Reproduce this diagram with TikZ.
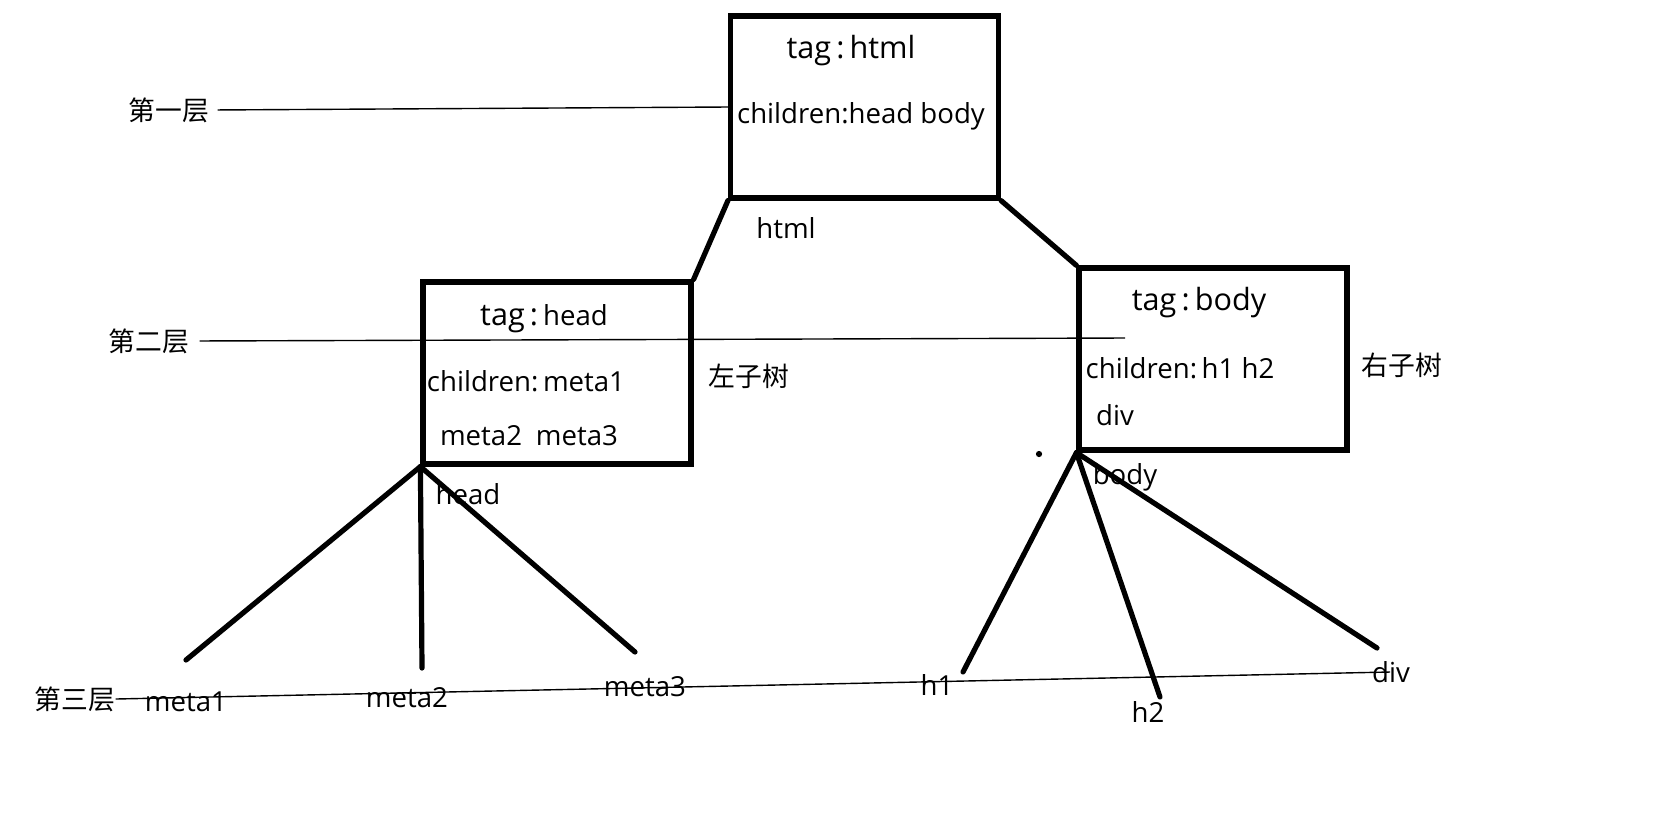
\documentclass[tikz,border=0pt]{standalone}
\usepackage{fontspec}
\setmainfont{Open Sans}
\newfontfamily\cjk{Noto Sans CJK SC}
\begin{document}
\begin{tikzpicture}[x=0.5pt,y=-0.5pt,
  box/.style={draw,line width=2.6pt,minimum width=134pt,minimum height=91pt,inner sep=0pt},
  txt/.style={inner sep=0pt,yshift=-1.5pt,font=\fontsize{13.8}{16}\selectfont},
  big/.style={inner sep=0pt,yshift=-1.5pt,font=\fontsize{15.3}{18}\selectfont},
  zh/.style={inner sep=0pt,font=\cjk\fontsize{13.4}{15}\selectfont},
  edge/.style={line width=2.6pt,line cap=round},
  thinline/.style={line width=0.7pt}]
\useasboundingbox (0,0) rectangle (1657,837);
% boxes
\node[box] (html) at (864.5,107) {};
\node[box] (head) at (557,373) {};
\node[box] (body) at (1213,359) {};
% layer labels
\node[zh] (L1) at (169,110) {第一层};
\node[zh] (L2) at (149,341) {第二层};
\node[zh] (L3) at (75,699) {第三层};
\coordinate (e2) at (1125,338);
\coordinate (e3) at (1390,672);
\draw[thinline,shorten <=4pt] (L1.east) -- (html.west);
\draw[thinline,shorten <=5pt] (L2.east) -- (e2);
\draw[thinline] (L3.east) -- (e3);
% texts in boxes
\node[big] (t1) at (851,48) {tag\,:\,html};
\node[txt] (c1) at (861,113) {children:head body};
\node[txt] (l1) at (786,225) {html};
\node[big] (t2) at (544,316) {tag\,:\,{\fontsize{13.8}{16}\selectfont head}};
\node[txt] (c2) at (526,378) {children:\,meta1};
\node[txt] (m2) at (529,433) {meta2\enspace meta3};
\node[zh] (zl) at (749,376) {左子树};
\node[txt] (l2) at (468,491) {head};
\node[big] (t3) at (1199,300) {tag\,:\,body};
\node[txt] (c3) at (1180,365) {children:\,h1 h2};
\node[txt] (d3) at (1115,412) {div};
\node[zh] (zr) at (1402,365) {右子树};
\node[txt] (l3) at (1125,474) {body};
% leaf labels
\node[txt] (n1) at (186,699) {meta1};
\node[txt] (n2) at (407,695) {meta2};
\node[txt] (n3) at (645,684) {meta3};
\node[txt] (n4) at (937,682) {h1};
\node[txt] (n5) at (1148,709) {h2};
\node[txt] (n6) at (1391,669) {div};
% edges
\coordinate (a1) at (186,660);
\coordinate (a2) at (422,668);
\coordinate (a3) at (635,652);
\coordinate (b1) at (963,672);
\coordinate (b2) at (1160,697);
\coordinate (b3) at (1377,648);
\draw[edge] (html.south west) -- (head.north east);
\draw[edge] (html.south east) -- (body.north west);
\draw[edge] (head.south west) -- (a1);
\draw[edge] (head.south west) -- (a2);
\draw[edge] (head.south west) -- (a3);
\draw[edge] (body.south west) -- (b1);
\draw[edge] (body.south west) -- (b2);
\draw[edge] (body.south west) -- (b3);
\node[circle,fill,inner sep=1.1pt] (dot) at (1039,454) {};
\end{tikzpicture}
\end{document}
